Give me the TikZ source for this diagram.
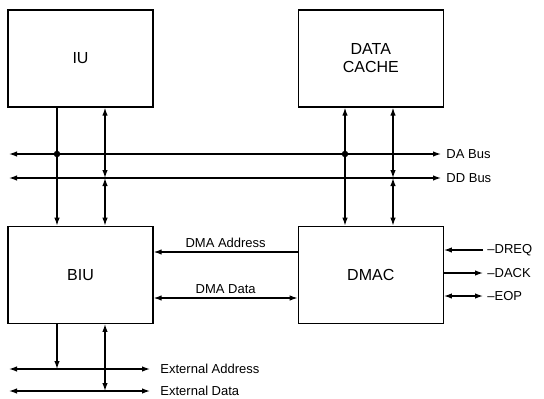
\documentclass[tikz,border=0pt]{standalone}
\usepackage{fontspec}
\setmainfont{Liberation Sans}
\usetikzlibrary{arrows.meta,positioning}

\begin{document}
\begin{tikzpicture}[x=1pt,y=-1pt,
  box/.style={draw,line width=1.3pt,minimum width=145pt,minimum height=97pt,inner sep=0pt,
  align=center,font=\fontsize{16}{18}\selectfont},
  arr/.style={-{Latex[length=8pt,width=5.5pt]},line width=1.25pt},
  darr/.style={{Latex[length=8pt,width=5.5pt]}-{Latex[length=8pt,width=5.5pt]},line width=1.25pt},
  lbl/.style={font=\fontsize{13}{15}\selectfont},
  dot/.style={circle,fill,inner sep=0pt,minimum size=6.5pt},node distance=118pt]
  \useasboundingbox (0,0) rectangle (544,399);
  % blocks
  \node[box] (IU) at (80.5,58.5) {IU};
  \node[box,right=144pt of IU] (DC) {DATA\\CACHE};
  \node[box,below=of IU] (BIU) {BIU};
  \node[box,right=144pt of BIU] (DMAC) {DMAC};
  % tap positions and line ends
  \coordinate (xa) at (57,0);
  \coordinate (xb) at (105,0);
  \coordinate (xc) at (345,0);
  \coordinate (xd) at (393,0);
  \coordinate (daL) at (9,154);
  \coordinate (daR) at (441,154);
  \coordinate (ddL) at (9,178);
  \coordinate (ddR) at (441,178);
  \coordinate (eaL) at (9,369);
  \coordinate (eaR) at (150,369);
  \coordinate (edL) at (9,391);
  \coordinate (edR) at (150,391);
  \coordinate (ya) at (0,252);
  \coordinate (yd) at (0,298);
  \coordinate (rq) at (483,250);
  \coordinate (ak) at (483,273);
  \coordinate (ep) at (483,296);
  % buses
  \draw[darr] (daL) -- (daR) node[lbl,right=1.5pt] {DA Bus};
  \draw[darr] (ddL) -- (ddR) node[lbl,right=1.5pt] {DD Bus};
  % IU <-> BIU
  \draw[arr] (IU.south -| xa) -- (BIU.north -| xa);
  \node[dot] (d1) at (daL -| xa) {};
  \draw[darr] (IU.south -| xb) -- (ddL -| xb);
  \draw[darr] (BIU.north -| xb) -- (ddL -| xb);
  % DATA CACHE <-> DMAC
  \draw[darr] (DC.south -| xc) -- (DMAC.north -| xc);
  \node[dot] (d2) at (daL -| xc) {};
  \draw[darr] (DC.south -| xd) -- (ddL -| xd);
  \draw[darr] (DMAC.north -| xd) -- (ddL -| xd);
  % DMA paths
  \draw[arr] (DMAC.west |- ya) -- (BIU.east |- ya) node[lbl,midway,above=0.5pt] {DMA Address};
  \draw[darr] (BIU.east |- yd) -- (DMAC.west |- yd) node[lbl,midway,above=0.5pt] {DMA Data};
  % DMAC control lines
  \draw[arr] (rq) node[lbl,right=0.5pt] {--DREQ} -- (DMAC.east |- rq);
  \draw[arr] (DMAC.east |- ak) -- (ak) node[lbl,right=0.5pt] {--DACK};
  \draw[darr] (DMAC.east |- ep) -- (ep) node[lbl,right=0.5pt] {--EOP};
  % external side
  \draw[darr] (eaL) -- (eaR) node[lbl,right=6.5pt] {External Address};
  \draw[darr] (edL) -- (edR) node[lbl,right=6.5pt] {External Data};
  \draw[arr] (BIU.south -| xa) -- (eaL -| xa);
  \draw[darr] (BIU.south -| xb) -- (edL -| xb);
\end{tikzpicture}
\end{document}
